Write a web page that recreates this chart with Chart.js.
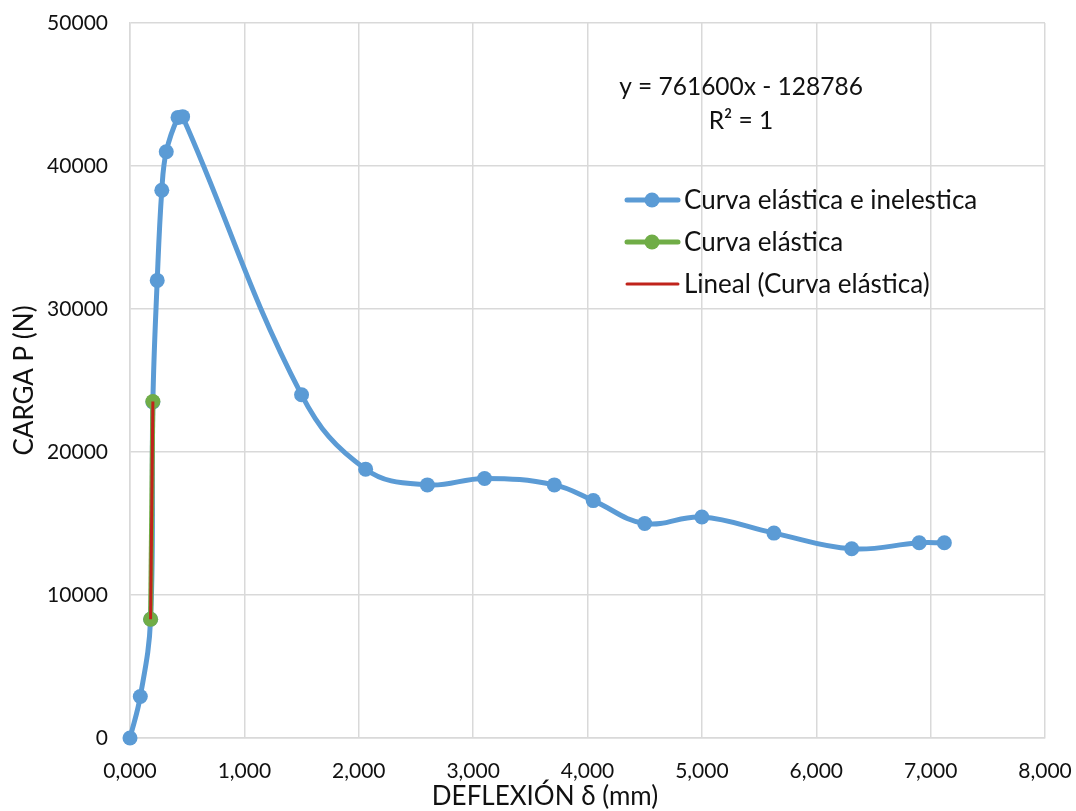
<!DOCTYPE html>
<html>
<head>
<meta charset="utf-8">
<script src="https://cdn.jsdelivr.net/npm/chart.js@4/dist/chart.umd.min.js"></script>
<style>
    html, body { margin: 0; padding: 0; background: #fff; }
    #wrap { width: 1076px; height: 811px; }
</style>
</head>
<body>
<div id="wrap"><canvas id="chart" width="1076" height="811"></canvas></div>
<script>
// --- data ---
const curveX = [0, 0.09, 0.18, 0.20, 0.238, 0.278, 0.317, 0.42, 0.46, 1.50, 2.06, 2.60, 3.10, 3.71, 4.05, 4.50, 5.00, 5.63, 6.31, 6.90, 7.12];
const curveY = [0, 2900, 8300, 23500, 32000, 38300, 41000, 43400, 43450, 24000, 18800, 17700, 18150, 17700, 16600, 15000, 15450, 14330, 13230, 13650, 13650];

const elasticX = [0.18, 0.20];
const elasticY = [8302, 23534];

const trendX = [0.18, 0.20];
const trendY = [8302, 23534];

const xTicks = [0, 1, 2, 3, 4, 5, 6, 7, 8];
const yTicks = [0, 10000, 20000, 30000, 40000, 50000];

const seriesNames = ['Curva elástica e inelestica', 'Curva elástica', 'Lineal (Curva elástica)'];
const equationLines = ['y = 761600x - 128786', 'R² = 1'];
const xTitle = 'DEFLEXIÓN δ (mm)';

const FONT = 'Lato, Carlito, "Liberation Sans", sans-serif';
const TEXT = '#111111';
const GRID = '#d9d9d9';

function toPoints(xs, ys) {
    return xs.map((x, i) => ({ x: x, y: ys[i] }));
}

// legend, x title and trendline equation drawn by hand, Excel style
const extras = {
    id: 'extras',
    afterDraw(chart) {
        const ctx = chart.ctx;
        ctx.save();
        ctx.fillStyle = TEXT;
        ctx.textAlign = 'center';
        ctx.textBaseline = 'middle';
        ctx.font = '24.5px ' + FONT;
        ctx.fillText(equationLines[0], 741, 87);
        ctx.fillText(equationLines[1], 741, 121);

        // x axis title sits left of centre in the original
        ctx.font = '26px ' + FONT;
        ctx.fillText(xTitle, 545, 797);

        const rows = [200, 242, 284];
        chart.data.datasets.forEach((ds, i) => {
            const y = rows[i];
            ctx.strokeStyle = ds.borderColor;
            ctx.lineWidth = ds.borderWidth;
            ctx.lineCap = 'round';
            ctx.beginPath();
            ctx.moveTo(627, y);
            ctx.lineTo(678, y);
            ctx.stroke();
            if (ds.pointRadius > 0) {
                ctx.fillStyle = ds.pointBackgroundColor;
                ctx.beginPath();
                ctx.arc(652, y, ds.pointRadius, 0, Math.PI * 2);
                ctx.fill();
            }
            ctx.fillStyle = TEXT;
            ctx.textAlign = 'left';
            ctx.font = '26px ' + FONT;
            ctx.fillText(seriesNames[i], 684, y + 1);
        });
        ctx.restore();
    }
};

const ctx = document.getElementById('chart').getContext('2d');
new Chart(ctx, {
    type: 'scatter',
    data: {
        datasets: [{
            label: seriesNames[0],
            data: toPoints(curveX, curveY),
            showLine: true,
            tension: 0.4,
            clip: false,
            borderColor: '#5b9bd5',
            backgroundColor: '#5b9bd5',
            pointBackgroundColor: '#5b9bd5',
            pointBorderWidth: 0,
            borderWidth: 5,
            pointRadius: 7.5,
            order: 3
        }, {
            label: seriesNames[1],
            data: toPoints(elasticX, elasticY),
            showLine: true,
            clip: false,
            borderColor: '#70ad47',
            backgroundColor: '#70ad47',
            pointBackgroundColor: '#70ad47',
            pointBorderWidth: 0,
            borderWidth: 5,
            pointRadius: 7.5,
            order: 2
        }, {
            label: seriesNames[2],
            data: toPoints(trendX, trendY),
            showLine: true,
            clip: false,
            borderColor: '#c0231b',
            backgroundColor: '#c0231b',
            borderWidth: 3,
            pointRadius: 0,
            order: 1
        }]
    },
    options: {
        responsive: false,
        animation: false,
        events: [],
        layout: { padding: { top: 23, right: 31, left: 0, bottom: 0 } },
        plugins: {
            legend: { display: false },
            tooltip: { enabled: false }
        },
        scales: {
            x: {
                type: 'linear',
                min: 0,
                max: 8,
                afterBuildTicks: (scale) => { scale.ticks = xTicks.map(v => ({ value: v })); },
                afterFit: (scale) => {
                    scale.height = 73;
                    scale.paddingLeft = 0;
                    scale.paddingRight = 0;
                },
                grid: { color: GRID, lineWidth: 1.5, drawTicks: false },
                border: { color: GRID, width: 1.5 },
                ticks: {
                    padding: 21,
                    color: TEXT,
                    font: { family: FONT, size: 21 },
                    callback: (v) => v.toFixed(3).replace('.', ',')
                }
            },
            y: {
                type: 'linear',
                min: 0,
                max: 50000,
                afterBuildTicks: (scale) => { scale.ticks = yTicks.map(v => ({ value: v })); },
                afterFit: (scale) => {
                    scale.width = 130;
                    scale.paddingTop = 0;
                    scale.paddingBottom = 0;
                },
                grid: { color: GRID, lineWidth: 1.5, drawTicks: false },
                border: { color: GRID, width: 1.5 },
                ticks: {
                    padding: 22,
                    color: TEXT,
                    font: { family: FONT, size: 21 },
                    callback: (v) => String(v)
                },
                title: {
                    display: true,
                    text: 'CARGA P (N)',
                    color: TEXT,
                    font: { family: FONT, size: 26 },
                    padding: { top: 9, bottom: 0 }
                }
            }
        }
    },
    plugins: [extras]
});
</script>
</body>
</html>
